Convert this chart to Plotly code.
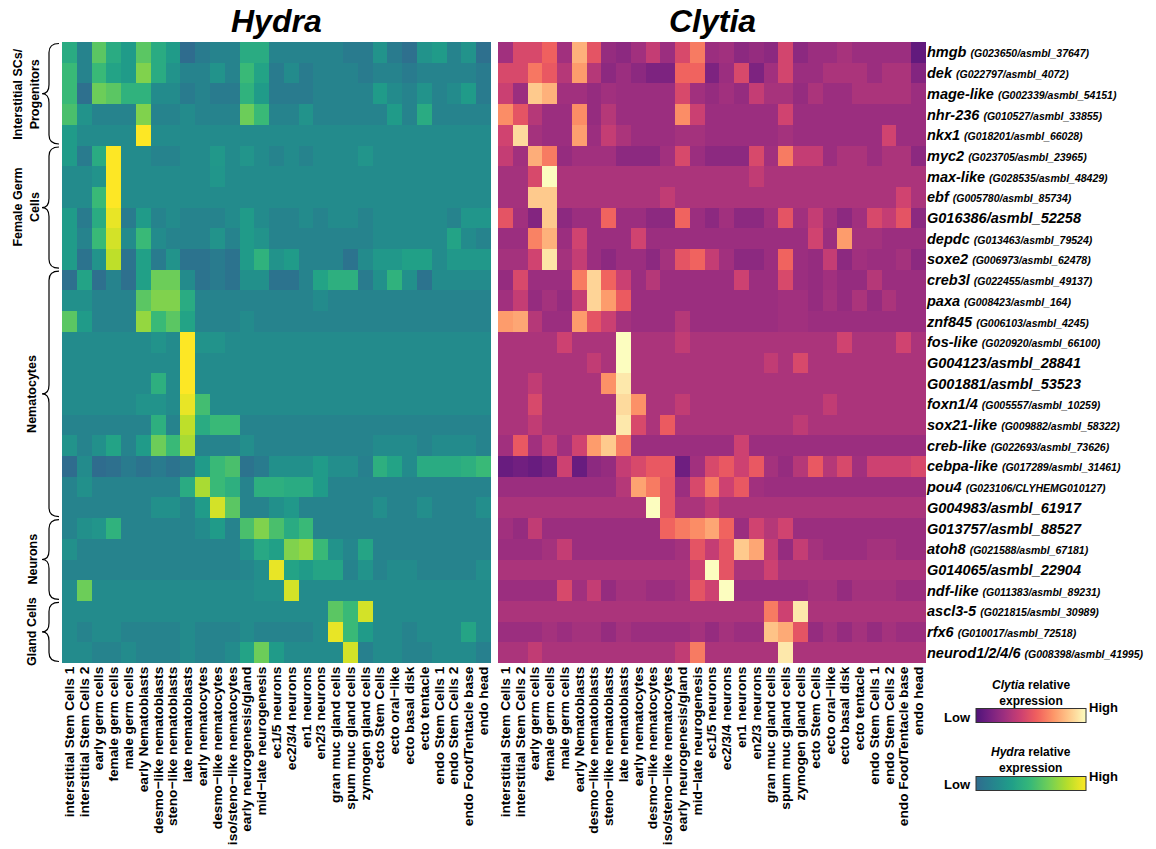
import plotly.graph_objects as go

W, H = 1156, 849
FONT = "Liberation Sans, Arial, sans-serif"

# ---- data -----------------------------------------------------------------
cell_types = [
    "interstitial Stem Cells 1", "interstitial Stem Cells 2", "early germ cells",
    "female germ cells", "male germ cells", "early Nematoblasts",
    "desmo\u2212like nematoblasts", "steno\u2212like nematoblasts", "late nematoblasts",
    "early nematocytes", "desmo\u2212like nematocytes", "iso/steno\u2212like nematocytes",
    "early neurogenesis/gland", "mid\u2212late neurogenesis", "ec1/5 neurons",
    "ec2/3/4 neurons", "en1 neurons", "en2/3 neurons", "gran muc gland cells",
    "spum muc gland cells", "zymogen gland cells", "ecto Stem Cells",
    "ecto oral\u2212like", "ecto basal disk", "ecto tentacle", "endo Stem Cells 1",
    "endo Stem Cells 2", "endo Foot/Tentacle base", "endo head",
]

gene_names = [
    "hmgb", "dek", "mage-like", "nhr-236", "nkx1", "myc2", "max-like", "ebf",
    "G016386/asmbl_52258", "depdc", "soxe2", "creb3l", "paxa", "znf845", "fos-like",
    "G004123/asmbl_28841", "G001881/asmbl_53523", "foxn1/4", "sox21-like", "creb-like",
    "cebpa-like", "pou4", "G004983/asmbl_61917", "G013757/asmbl_88527", "atoh8",
    "G014065/asmbl_22904", "ndf-like", "ascl3-5", "rfx6", "neurod1/2/4/6",
]

gene_ids = [
    "G023650/asmbl_37647", "G022797/asmbl_4072", "G002339/asmbl_54151",
    "G010527/asmbl_33855", "G018201/asmbl_66028", "G023705/asmbl_23965",
    "G028535/asmbl_48429", "G005780/asmbl_85734", "", "G013463/asmbl_79524",
    "G006973/asmbl_62478", "G022455/asmbl_49137", "G008423/asmbl_164",
    "G006103/asmbl_4245", "G020920/asmbl_66100", "", "", "G005557/asmbl_10259",
    "G009882/asmbl_58322", "G022693/asmbl_73626", "G017289/asmbl_31461",
    "G023106/CLYHEMG010127", "", "", "G021588/asmbl_67181", "",
    "G011383/asmbl_89231", "G021815/asmbl_30989", "G010017/asmbl_72518",
    "G008398/asmbl_41995",
]

# cell-type groups of genes: (label, first row, last row)
gene_groups = [
    ("Interstitial SCs/<br>Progenitors", 0, 4),
    ("Female Germ<br>Cells", 5, 10),
    ("Nematocytes", 11, 22),
    ("Neurons", 23, 26),
    ("Gland Cells", 27, 29),
]

# relative expression, 0 (low) .. 10 (high); rows follow gene_names
hydra_expr = [
    [4, 1.5, 6, 4, 3, 6, 4, 3, 0, 1, 1.5, 1.5, 4, 4, 1.5, 1.5, 1.5, 1.5, 1.5, 1, 1, 2.5, 1, 0.3, 2.5, 3, 1.5, 2.5, 0.3],
    [5, 1.5, 5, 3.5, 3, 7, 4, 2.5, 1.5, 1.5, 2.5, 1.5, 5, 3.5, 1, 2, 1, 1.5, 1.5, 1.5, 1, 1.5, 1.5, 1, 1.5, 1.5, 1.5, 1.5, 1],
    [5, 0.3, 6.5, 6, 4.5, 4.5, 2, 2, 1, 1.5, 1, 1, 4.5, 3, 1, 1, 1, 1.5, 1.5, 1.5, 1.5, 3, 2, 1.5, 2.5, 1.5, 2, 3, 1],
    [5.5, 2.5, 1.5, 1.5, 1.5, 7, 1.5, 1.5, 2, 1.5, 1.5, 1.5, 6.5, 5, 1.5, 1.5, 2.5, 1.5, 1.5, 1.5, 1.5, 1.5, 3, 1.5, 4, 1.5, 1.5, 1.5, 1.5],
    [3, 2, 2, 2, 2, 10, 2, 2, 2, 2, 2, 2, 2, 2, 2, 2, 2, 2, 2, 2, 2, 2, 2, 2, 2, 2, 2, 2, 2],
    [3, 1, 4, 10, 2, 2, 1.5, 1.5, 2, 2, 2.8, 2, 2.6, 2, 1.5, 2, 1.5, 2, 2, 2, 2.6, 2, 2, 2, 2, 2, 2, 2, 2],
    [2, 2, 2.5, 10, 2, 2, 2, 2, 2, 2, 2.7, 2, 2, 2, 2, 2, 2, 2, 2, 2, 2, 2, 2, 2, 2, 2, 2, 2, 2],
    [2, 2, 5, 10, 2, 2, 2, 2, 2, 2, 2, 2, 2, 2, 2, 2, 2, 2, 2, 2, 2, 2, 2, 2, 2, 2, 2, 2, 2],
    [3, 1, 4, 9.5, 1, 3, 1.5, 2, 1.5, 1.5, 1.5, 2, 3, 2, 1.5, 1.5, 2, 1.5, 2, 2, 1.5, 2, 2, 2, 2, 2, 1.5, 2.7, 2.7],
    [3, 1.5, 5, 9, 2, 5, 2, 1.5, 1.5, 1.5, 2.5, 1.5, 3, 2.5, 1.5, 1.5, 1.5, 1.5, 1.5, 1.5, 1.5, 2, 2, 2, 2, 2, 3.5, 2, 1.5],
    [3, 0.5, 2.5, 8.5, 0.5, 3.3, 1, 2.5, 0.5, 0.5, 1, 0.5, 3, 4.5, 2.5, 3, 1.5, 1.5, 1.5, 0.5, 2, 2.8, 2.8, 3.3, 3.3, 2, 2.8, 2.8, 2.8],
    [0.3, 3.5, 0.3, 1.5, 0.3, 3.3, 6.5, 6.5, 2, 0.5, 1, 0.5, 2.3, 2.3, 0.5, 0.5, 1.5, 3.5, 4.3, 4.3, 1, 2.3, 4.5, 2.3, 0.5, 2, 2, 2, 2],
    [2.3, 2.3, 1.5, 1.5, 1.5, 6, 7, 7, 4, 1.5, 1.5, 1.5, 1.5, 1.5, 1.5, 1.5, 1.5, 2, 1.5, 1.5, 1.5, 1.5, 1.5, 1.5, 1.5, 1.5, 1.5, 1.5, 1.5],
    [6, 3, 1.5, 1.5, 1.5, 7.5, 5, 6, 3.5, 1.5, 1.5, 1.5, 2, 1.5, 1.5, 1.5, 1.5, 1.5, 1.5, 1.5, 1.5, 1.5, 1.5, 1.5, 1.5, 1.5, 1.5, 1.5, 1.5],
    [2, 2, 2, 2, 2, 2, 2.5, 2, 10, 2.5, 2.5, 2, 2, 2, 2, 2, 2, 2, 2, 2, 2, 2, 2, 2, 2, 2, 2, 2, 2],
    [2, 2, 2, 2, 2, 2, 2, 2, 10, 2, 2, 2, 2, 2, 2, 2, 2, 2, 2, 2, 2, 2, 2, 2, 2, 2, 2, 2, 2],
    [2, 2, 2, 2, 2, 2, 4.3, 2, 10, 2, 2, 2, 2, 2, 2, 2, 2, 2, 2, 2, 2, 2, 2, 2, 2, 2, 2, 2, 2],
    [2, 2, 2, 2, 2, 2.5, 2.5, 2, 9.5, 5.3, 2, 2, 2, 2, 2, 2, 2, 2, 2, 2, 2, 2, 2, 2, 2, 2, 2, 2, 2],
    [1.5, 1.5, 1.5, 1.5, 1.5, 1.5, 4.3, 1.5, 8.5, 4, 5, 5, 1.5, 1.5, 1.5, 1.5, 1.5, 1.5, 1.5, 1.5, 1.5, 1.5, 1.5, 1.5, 1.5, 1.5, 1.5, 1.5, 1.5],
    [2.5, 1.5, 2.3, 3.5, 1.5, 3, 6.5, 5, 8, 1.5, 1.5, 1.5, 2.2, 1.5, 1.5, 1.5, 1.5, 1.5, 1.5, 1.5, 1.5, 2, 2, 2, 1.5, 2, 2, 2, 1.5],
    [0, 2, 0, 0.3, 1, 0.5, 1, 0.5, 1, 3, 5, 5.5, 0.5, 1, 2.3, 2.3, 2.3, 3, 2.2, 2.2, 1.3, 4.3, 3.5, 2, 4, 4, 4, 4.3, 5],
    [1.5, 2.3, 1.5, 1.5, 1.5, 1.5, 1.5, 1.5, 4, 8, 5, 4.3, 1.5, 4.3, 4.3, 4, 4, 3, 1.5, 1.5, 1.5, 1.5, 1.5, 1.5, 1.5, 1.5, 1.5, 1.5, 1.5],
    [1.5, 1.5, 1.5, 1.5, 1.5, 1.5, 2.3, 2.3, 1.5, 3, 9, 6, 1.5, 1.5, 2.3, 2.8, 1.5, 1.5, 1.5, 1.5, 1.5, 2.2, 1.5, 1.5, 2.2, 1.5, 1.5, 1.5, 2.2],
    [1.5, 2.3, 2.6, 4.5, 1.5, 1.5, 1.5, 1.5, 1.5, 2, 3, 1.5, 5.5, 7, 5.5, 4, 5, 1.5, 1.5, 1.5, 1.5, 1.5, 1.5, 1.5, 1.5, 1.5, 1.5, 1.5, 1.5],
    [2.3, 1.5, 1.5, 1.5, 1.5, 1.5, 1.5, 1.5, 1.5, 1.5, 1.5, 1.5, 2.3, 3.8, 3.3, 7, 7.5, 5, 2.5, 1.7, 3.6, 1.5, 1.5, 1.5, 1.5, 1.5, 1.5, 1.5, 1.5],
    [1.5, 1.5, 1.5, 1.5, 1.5, 1.5, 1.5, 1.5, 1.5, 1.5, 1.5, 1.5, 1.7, 2.2, 9.5, 3.5, 3, 3.6, 3.6, 1.5, 2.5, 1.5, 2, 2, 1.5, 1.5, 1.5, 1.5, 2.2],
    [2, 6.5, 2, 2, 2, 2, 2, 2, 2, 2, 2, 2, 2, 2.3, 2.3, 9, 2, 2, 2, 2, 2, 2, 2, 2, 2, 2, 2, 2, 2],
    [2, 2, 2, 2, 2, 2, 2, 2, 2, 2, 2, 2, 2, 2, 2, 2, 2, 2, 6, 5, 9, 2, 2, 2, 2, 2, 2, 2, 2],
    [2, 1.5, 2, 2, 1.5, 1.5, 1.5, 1.5, 2, 1.5, 1.5, 1.5, 2, 1.5, 1.5, 1.5, 1.5, 2, 9.5, 5, 3, 2, 2, 1.5, 2, 2, 2, 3.6, 2],
    [2, 2, 1.5, 1.5, 2, 1.5, 1.5, 1.5, 2, 1.5, 1.5, 2, 3.5, 6.5, 3, 2, 2, 2, 2, 9, 1.3, 2, 2, 1.5, 1.5, 2, 2, 2, 1.3],
]

clytia_expr = [
    [2.7, 4.5, 4.5, 5.5, 2.7, 7.8, 5, 2.3, 2, 2.7, 3.8, 2.5, 4.5, 6.3, 2.5, 2.7, 2, 2.3, 2, 4.3, 2, 2.5, 2.5, 2.9, 2.5, 2.5, 2.5, 2.5, 0.6],
    [4.5, 4.5, 6.2, 5.2, 3.3, 7.2, 3.3, 2, 2.5, 2, 1.5, 1.5, 5.6, 5.6, 1.5, 2.5, 4.5, 1.5, 2.7, 4.3, 2.5, 2.5, 3, 3, 3, 2.5, 3, 3, 1.7],
    [4, 2.5, 8.5, 7.8, 2.7, 2.7, 2.3, 2.7, 2.5, 2.5, 2.5, 2.5, 4.5, 2.7, 2.3, 2.7, 2.3, 3.8, 2.9, 2.9, 2.3, 3, 2.5, 2.5, 3, 3, 3, 3, 2.5],
    [6.8, 5, 3.3, 2.5, 2.5, 6.8, 2.3, 3.3, 2.5, 2.5, 2.5, 2.5, 6.8, 4, 2.5, 2.5, 2.5, 2.5, 2.5, 4.2, 2.5, 2.5, 2.5, 2.5, 2.5, 2.5, 2.5, 2.5, 2.5],
    [4.2, 9, 2.8, 2.5, 2.5, 7.3, 2.5, 3.8, 3, 2.5, 2.5, 2.5, 2.8, 2.8, 2.5, 2.5, 2.5, 2.5, 2.5, 2.8, 2.5, 2.5, 2.5, 2.5, 2.5, 2.5, 4.2, 2.5, 2.5],
    [3.8, 2.7, 7.7, 6.3, 2.3, 2.7, 2.7, 2.7, 2, 2, 2, 2.7, 4.5, 2.5, 2, 2, 2, 4.5, 2.7, 6.3, 3.8, 3.8, 2.5, 3, 3, 2.5, 3, 3, 2],
    [2.8, 2.8, 4.5, 10, 3, 3, 3, 3, 3, 3, 3, 3, 3, 3, 3, 3, 3, 3.7, 3, 3, 3, 3, 3, 3, 3, 3, 3, 3, 3],
    [2.8, 2.8, 8.5, 8.5, 3, 3, 3, 3, 3, 3, 3, 3.7, 3, 3, 3, 3, 3, 3, 3, 3, 3, 3, 3, 3, 3, 3, 3, 4.2, 3],
    [5, 2.7, 1.7, 8.5, 2, 2.5, 2.5, 5.6, 2.5, 2.5, 2, 2, 5.6, 2.5, 2, 2.7, 2, 2, 2.7, 5, 2.7, 3.8, 2.7, 2, 2.7, 4.5, 3.8, 5, 2],
    [2.5, 2.5, 6.5, 7.8, 2.5, 4.2, 2.5, 2.5, 2.5, 4.2, 2.5, 2.5, 2.5, 2.5, 2.5, 2.5, 2.5, 2.5, 2.5, 2.5, 2.5, 4.2, 2.5, 7.2, 2.8, 2.8, 2.5, 2.5, 2.5],
    [2.8, 2.8, 4.2, 9.3, 2.8, 3.8, 2.5, 2, 2.5, 2.5, 2, 2.8, 5, 5.6, 3.8, 2.7, 2, 2, 2.5, 5.6, 2.5, 2.3, 3.8, 2, 2.7, 2.5, 2.5, 2.8, 2],
    [2.3, 4.5, 2.5, 2.5, 2.5, 6.3, 8.8, 5.6, 4, 2.5, 3.3, 2.5, 2.5, 2.5, 2.5, 2.5, 4.1, 2.5, 2.5, 4.5, 2.5, 2.3, 2.7, 2.3, 2.3, 3.3, 2.5, 2.5, 2.5],
    [2.7, 3.8, 2.3, 2.8, 2.3, 3.8, 8.8, 7.2, 5.3, 2.5, 2.5, 2.5, 2.5, 2.5, 2.5, 2.5, 2.5, 2.5, 2.5, 2.7, 2.7, 2.3, 2.8, 2.3, 3, 2.3, 3, 2.5, 2.5],
    [7.2, 7.5, 3.3, 2.5, 2.5, 7.2, 5, 4, 2.8, 2.5, 2.5, 2.5, 3.3, 2.5, 2.5, 2.5, 2.5, 2.5, 2.5, 2.7, 2.7, 2.5, 2.5, 2.5, 2.5, 2.5, 2.5, 2.5, 2.5],
    [3, 3, 3, 3, 4.1, 3, 3, 3, 10, 3, 3, 3, 3.7, 3, 3, 3, 3, 3, 3, 3, 3, 3, 3, 4.2, 3, 3, 3, 4.2, 3],
    [3, 3, 3, 3, 3, 3, 3.7, 3, 10, 3, 3, 3, 3, 3, 3, 3, 3, 3, 3.7, 3, 4.5, 3, 3, 3, 3, 3, 3, 3, 3],
    [3, 3, 3.7, 3, 3, 3, 3, 6.9, 9.4, 3, 3, 3, 3, 3, 3, 3, 3, 3, 3, 3, 3, 3, 3, 3, 3, 3, 3, 3, 3],
    [3, 3, 4.5, 3, 3, 3, 3, 3, 9, 6.9, 3, 3, 3.7, 3, 3, 3, 3, 3, 3, 3, 3, 3, 3.7, 3, 3, 3, 3, 3, 3],
    [3, 3, 3.7, 3, 3, 3, 3, 3, 9.4, 4.5, 3, 5.3, 3, 3, 3, 3, 3, 3, 3, 3, 3.6, 3, 3, 3, 3, 3, 3, 3, 3],
    [2.7, 5.2, 2.7, 3.8, 2.7, 4.2, 7.2, 8.5, 6.3, 2.5, 2.5, 2.5, 2.5, 2.5, 2.5, 2.5, 4.1, 2.5, 2.5, 2.5, 2.5, 2.5, 2.5, 2.5, 2.5, 2.5, 2.5, 2.5, 2.5],
    [0.8, 1.1, 0.8, 1.3, 4.1, 0.8, 2, 2.3, 3.8, 4.5, 5.2, 5.2, 1, 2.7, 4.5, 5.2, 4.1, 5.2, 2.8, 2.3, 3.3, 5.2, 3.3, 4.5, 2.7, 4.1, 4.1, 4.1, 4.5],
    [2.5, 2.5, 2.5, 2.5, 2.5, 2.5, 2.5, 2.5, 3.3, 7.4, 6.3, 5, 2.5, 4.5, 6.3, 4.1, 5.2, 2.7, 2.5, 2.5, 2.5, 2.5, 2.5, 2.5, 2.5, 2.5, 2.5, 2.5, 2.5],
    [3, 3, 3, 3, 3, 3, 3, 3, 3, 3, 10, 5, 3, 3, 3.7, 3, 3, 3, 3, 3, 3, 3, 3, 3, 3, 3, 3, 3, 3],
    [2.7, 2.3, 3.7, 2.5, 2.5, 2.5, 2.5, 2.5, 2.5, 2.5, 2.5, 5.6, 6.3, 6.8, 7.5, 5.6, 2.5, 4.2, 3.3, 4.2, 2.5, 2.5, 2.5, 2.5, 2.5, 2.5, 2.5, 2.5, 2.5],
    [2.5, 2.5, 2.5, 2.8, 3.8, 2.5, 2.5, 2.5, 2.5, 2.5, 2.5, 2.5, 2.8, 5, 3.8, 5, 8.5, 7.5, 3.8, 2.3, 3.8, 2.8, 2.5, 2.5, 2.5, 2.8, 2.8, 2.5, 2.5],
    [3, 3, 3, 3, 3, 3, 3, 3, 3, 3, 3, 3, 3, 4.1, 10, 5, 3, 3, 4.1, 3, 3, 3, 3, 3, 3, 3, 3, 3, 3],
    [2.5, 2.5, 2.5, 2.5, 4.5, 2.7, 3.8, 2.3, 2.8, 2.8, 2.5, 2.5, 2.8, 5, 4.1, 10, 2.5, 2.5, 2.5, 2.5, 2.5, 2.8, 2.8, 2.3, 2.8, 2.8, 2.8, 2.5, 2.5],
    [3, 3, 3, 3, 3, 3, 3, 3, 3, 3, 3, 3, 3, 3, 3, 3, 3, 3, 6.3, 4.1, 9.4, 3, 3, 3, 3, 3, 3, 3, 3],
    [2.5, 2.5, 2.5, 2.8, 2.5, 2.8, 2.8, 2.3, 2.8, 2.5, 2.5, 2.5, 2.5, 2.8, 2.3, 2.8, 2.5, 2.5, 8.3, 7.6, 5, 2.3, 2.8, 2.3, 2.8, 2.3, 2.8, 2.5, 2.5],
    [3, 3, 3.7, 3, 3, 3, 3, 3, 3, 3, 3, 3, 3.7, 6.3, 3, 3, 3, 3, 3, 9.4, 3, 3, 3, 3, 3, 3, 3, 3, 3],
]

Z_LOW, Z_HIGH = 0, 10

# ---- colour scales ----------------------------------------------------------
VIRIDIS = ["#440154", "#482878", "#3e4989", "#31688e", "#26828e",
           "#1f9e89", "#35b779", "#6ece58", "#b5de2b", "#fde725"]
MAGMA = ["#000004", "#180f3d", "#440f76", "#721f81", "#9e2f7f",
         "#cd4071", "#f1605d", "#fd9668", "#feca8d", "#fcfdbf"]


def _rgb(h):
    h = h.lstrip("#")
    return [int(h[i:i + 2], 16) for i in (0, 2, 4)]


def _sample(colors, t):
    pos = t * (len(colors) - 1)
    i = min(int(pos), len(colors) - 2)
    f = pos - i
    a, b = _rgb(colors[i]), _rgb(colors[i + 1])
    c = [round(a[k] + (b[k] - a[k]) * f) for k in range(3)]
    return f"rgb({c[0]},{c[1]},{c[2]})"


def partial_scale(colors, start, n=25):
    return [[k / (n - 1), _sample(colors, start + (1 - start) * k / (n - 1))]
            for k in range(n)]


hydra_scale = partial_scale(VIRIDIS, 0.35)
clytia_scale = partial_scale(MAGMA, 0.25)

# ---- layout geometry (pixels) --------------------------------------------------
HY_X0, HY_X1 = 62, 491
CL_X0, CL_X1 = 498, 926
MAP_Y0, MAP_Y1 = 42, 663


def px_x(x):
    return x / W


def px_y(y):
    return 1 - y / H


gene_ticktext = [
    name if not gid else f"{name} <span style='font-size:10.5px'>({gid})</span>"
    for name, gid in zip(gene_names, gene_ids)
]

xaxis_common = dict(
    type="category", tickmode="array", tickvals=cell_types, ticktext=cell_types,
    tickangle=-90, ticks="", showgrid=False, zeroline=False, showline=False,
    automargin=False,
    tickfont=dict(family=FONT, size=13.7, color="black", weight="bold"),
)
yaxis_common = dict(
    autorange="reversed", showgrid=False, zeroline=False, showline=False, ticks="",
    automargin=False,
)


def colorbar(y_center):
    return dict(
        orientation="h", x=px_x(1031), xanchor="center", y=px_y(y_center),
        yanchor="middle", len=110, lenmode="pixels", thickness=14,
        thicknessmode="pixels", outlinewidth=1, outlinecolor="#333333",
        showticklabels=False, ticks="", xpad=0, ypad=0,
    )


fig = go.Figure()
fig.add_trace(go.Heatmap(
    z=hydra_expr, x=cell_types, y=gene_names, xaxis="x", yaxis="y",
    colorscale=hydra_scale, zmin=Z_LOW, zmax=Z_HIGH, colorbar=colorbar(784),
    hovertemplate="%{y}<br>%{x}<br>%{z}<extra>Hydra</extra>",
))
fig.add_trace(go.Heatmap(
    z=clytia_expr, x=cell_types, y=gene_names, xaxis="x2", yaxis="y2",
    colorscale=clytia_scale, zmin=Z_LOW, zmax=Z_HIGH, colorbar=colorbar(716),
    hovertemplate="%{y}<br>%{x}<br>%{z}<extra>Clytia</extra>",
))

fig.update_layout(
    width=W, height=H, margin=dict(l=0, r=0, t=0, b=0, autoexpand=False),
    paper_bgcolor="white", plot_bgcolor="white",
    font=dict(family=FONT, color="black"),
    xaxis=dict(domain=[px_x(HY_X0), px_x(HY_X1)], anchor="y", **xaxis_common),
    xaxis2=dict(domain=[px_x(CL_X0), px_x(CL_X1)], anchor="y2", **xaxis_common),
    yaxis=dict(domain=[px_y(MAP_Y1), px_y(MAP_Y0)], anchor="x",
               showticklabels=False, **yaxis_common),
    yaxis2=dict(domain=[px_y(MAP_Y1), px_y(MAP_Y0)], anchor="x2", side="right",
                tickmode="array", tickvals=gene_names, ticktext=gene_ticktext,
                tickfont=dict(family=FONT, size=14.5, color="black",
                              weight="bold", style="italic"),
                **yaxis_common),
)

annotations = []
# panel titles
for title, x0, x1 in (("Hydra", HY_X0, HY_X1), ("Clytia", CL_X0, CL_X1)):
    annotations.append(dict(
        text=f"<b><i>{title}</i></b>", x=px_x((x0 + x1) / 2), y=px_y(21),
        xref="paper", yref="paper", showarrow=False, xanchor="center",
        yanchor="middle", font=dict(family=FONT, size=32, color="black"),
    ))

# colour legends
for species, title_y, low_y, high_y in (("Clytia", 693, 717, 707),
                                        ("Hydra", 760, 784, 776)):
    annotations.append(dict(
        text=f"<b><i>{species}</i> relative<br>expression</b>", x=px_x(1031),
        y=px_y(title_y), xref="paper", yref="paper", showarrow=False,
        xanchor="center", yanchor="middle", align="center",
        font=dict(family=FONT, size=12, color="black"),
    ))
    annotations.append(dict(
        text="<b>Low</b>", x=px_x(973), y=px_y(low_y), xref="paper", yref="paper",
        showarrow=False, xanchor="right", yanchor="middle",
        font=dict(family=FONT, size=13, color="black"),
    ))
    annotations.append(dict(
        text="<b>High</b>", x=px_x(1087), y=px_y(high_y), xref="paper", yref="paper",
        showarrow=False, xanchor="left", yanchor="middle",
        font=dict(family=FONT, size=13, color="black"),
    ))

# curly braces + group labels on the left
row_h = (MAP_Y1 - MAP_Y0) / len(gene_names)
shapes = []
BR_END, BR_SPINE, BR_TIP = 59, 49, 42
for label, r0, r1 in gene_groups:
    top = MAP_Y0 + r0 * row_h + 1.5
    bot = MAP_Y0 + (r1 + 1) * row_h - 1.5
    mid = (top + bot) / 2
    c = 9
    pts = [
        f"M {px_x(BR_END)},{px_y(top)}",
        f"Q {px_x(BR_SPINE)},{px_y(top)} {px_x(BR_SPINE)},{px_y(top + c)}",
        f"L {px_x(BR_SPINE)},{px_y(mid - c)}",
        f"Q {px_x(BR_SPINE)},{px_y(mid)} {px_x(BR_TIP)},{px_y(mid)}",
        f"Q {px_x(BR_SPINE)},{px_y(mid)} {px_x(BR_SPINE)},{px_y(mid + c)}",
        f"L {px_x(BR_SPINE)},{px_y(bot - c)}",
        f"Q {px_x(BR_SPINE)},{px_y(bot)} {px_x(BR_END)},{px_y(bot)}",
    ]
    shapes.append(dict(type="path", path=" ".join(pts), xref="paper", yref="paper",
                       line=dict(color="black", width=1.2)))
    two_lines = "<br>" in label
    annotations.append(dict(
        text=f"<b>{label}</b>", x=px_x(26 if two_lines else 32), y=px_y(mid),
        xref="paper", yref="paper", showarrow=False, textangle=-90,
        xanchor="center", yanchor="middle", align="center",
        font=dict(family=FONT, size=12.5, color="black"),
    ))

fig.update_layout(annotations=annotations, shapes=shapes)
fig.write_html("out.html")
